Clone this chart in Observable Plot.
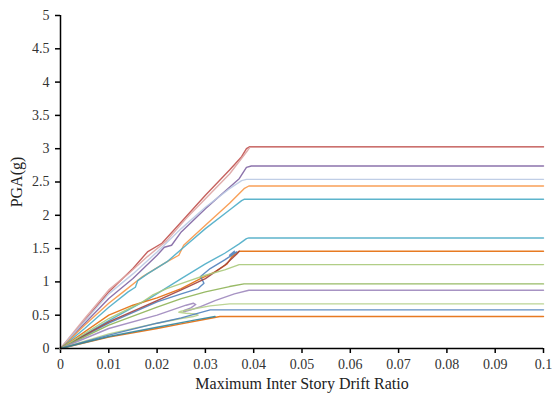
<!DOCTYPE html>
<html><head><meta charset="utf-8">
<script src="https://cdn.jsdelivr.net/npm/d3@7"></script>
<script src="https://cdn.jsdelivr.net/npm/@observablehq/plot@0.6"></script>
<style>
body{margin:0;background:#fff;}
#chart{position:absolute;left:0;top:0;}
</style></head>
<body><div id="chart"></div>
<script>
const xTicks = [0,0.01,0.02,0.03,0.04,0.05,0.06,0.07,0.08,0.09,0.1];
const yTicks = [0,0.5,1,1.5,2,2.5,3,3.5,4,4.5,5];
const xTickLabels = ["0","0.01","0.02","0.03","0.04","0.05","0.06","0.07","0.08","0.09","0.1"];
const yTickLabels = ["0","0.5","1","1.5","2","2.5","3","3.5","4","4.5","5"];

// Each record: [drift ratio, PGA(g)]
const rec01 = [[0,0],[0.005,0.42],[0.01,0.85],[0.015,1.2],[0.018,1.45],[0.021,1.58],[0.025,1.9],[0.03,2.3],[0.035,2.68],[0.0375,2.88],[0.0385,3.0],[0.0392,3.03],[0.1,3.03]];
const rec02 = [[0,0],[0.005,0.45],[0.01,0.88],[0.014,1.12],[0.018,1.38],[0.022,1.62],[0.026,1.95],[0.03,2.25],[0.035,2.62],[0.0385,2.95],[0.0392,3.02],[0.1,3.02]];
const rec03 = [[0,0],[0.01,0.75],[0.015,1.05],[0.02,1.4],[0.0215,1.52],[0.023,1.55],[0.025,1.75],[0.03,2.1],[0.035,2.42],[0.037,2.55],[0.0385,2.72],[0.0395,2.74],[0.1,2.74]];
const rec04 = [[0,0],[0.01,0.82],[0.015,1.12],[0.02,1.45],[0.025,1.8],[0.03,2.12],[0.035,2.4],[0.0375,2.52],[0.0385,2.54],[0.1,2.54]];
const rec05 = [[0,0],[0.005,0.35],[0.01,0.68],[0.013,0.85],[0.017,1.08],[0.022,1.3],[0.0245,1.4],[0.0255,1.55],[0.03,1.85],[0.035,2.18],[0.038,2.4],[0.039,2.44],[0.1,2.44]];
const rec06 = [[0,0],[0.005,0.3],[0.01,0.62],[0.014,0.85],[0.0155,0.92],[0.016,1.02],[0.018,1.12],[0.022,1.3],[0.026,1.55],[0.03,1.8],[0.035,2.08],[0.0375,2.22],[0.038,2.24],[0.1,2.24]];
const rec07 = [[0,0],[0.01,0.42],[0.0186,0.76],[0.025,1.05],[0.03,1.27],[0.034,1.43],[0.037,1.57],[0.0385,1.65],[0.039,1.66],[0.1,1.66]];
const rec08 = [[0,0],[0.01,0.5],[0.015,0.65],[0.02,0.76],[0.025,0.9],[0.029,1.05],[0.032,1.15],[0.0345,1.27],[0.0355,1.38],[0.037,1.46],[0.1,1.46]];
const rec09 = [[0,0],[0.01,0.38],[0.02,0.7],[0.025,0.82],[0.0285,0.9],[0.0297,0.98],[0.029,1.08],[0.031,1.2],[0.034,1.33],[0.0365,1.45],[0.035,1.4],[0.036,1.46]];
const rec10 = [[0,0],[0.01,0.4],[0.02,0.72],[0.025,0.88],[0.03,1.05],[0.034,1.25],[0.0365,1.42],[0.037,1.46]];
const rec11 = [[0,0],[0.01,0.45],[0.017,0.7],[0.019,0.8],[0.022,0.9],[0.026,1.0],[0.03,1.1],[0.034,1.18],[0.037,1.26],[0.1,1.26]];
const rec12 = [[0,0],[0.01,0.35],[0.02,0.62],[0.025,0.75],[0.03,0.85],[0.035,0.93],[0.038,0.97],[0.1,0.97]];
const rec13 = [[0,0],[0.01,0.3],[0.02,0.5],[0.026,0.65],[0.0275,0.68],[0.028,0.66],[0.027,0.61],[0.0255,0.57],[0.0255,0.55],[0.027,0.58],[0.029,0.63],[0.032,0.72],[0.036,0.82],[0.039,0.875],[0.1,0.875]];
const rec14 = [[0,0],[0.01,0.22],[0.02,0.38],[0.025,0.45],[0.0275,0.48],[0.0285,0.5],[0.0278,0.52],[0.026,0.53],[0.0245,0.545],[0.025,0.56],[0.028,0.6],[0.031,0.64],[0.035,0.67],[0.1,0.67]];
const rec15 = [[0,0],[0.01,0.2],[0.02,0.38],[0.025,0.46],[0.028,0.52],[0.031,0.58],[0.1,0.58]];
const rec16 = [[0,0],[0.01,0.17],[0.02,0.3],[0.025,0.37],[0.03,0.44],[0.033,0.48],[0.1,0.48]];
const rec17 = [[0,0],[0.01,0.18],[0.02,0.32],[0.028,0.43],[0.032,0.48]];

const records = [rec01,rec02,rec03,rec04,rec05,rec06,rec07,rec08,rec09,rec10,rec11,rec12,rec13,rec14,rec15,rec16,rec17];
const colors = ["#C0504D","#DDA3A2","#8064A2","#B9C9E3","#F79646","#4BACC6","#4BACC6","#E46C0A","#4F81BD","#A0413E","#A9C97A","#8DB255","#9D87BC","#B5CF8A","#4F81BD","#E46C0A","#31859C"];

const rows = [];
records.forEach((r,i)=>r.forEach(([x,y])=>rows.push({x,y,id:i})));

const chart = Plot.plot({
  width:553, height:395,
  marginLeft:60, marginRight:10, marginTop:15, marginBottom:47,
  style:{fontFamily:"'Liberation Serif', 'Times New Roman', serif", fontSize:"14px", color:"#333", background:"#fff"},
  x:{domain:[0,0.1], ticks:xTicks, tickFormat:(d,i)=>xTickLabels[i], tickSize:5, tickPadding:6, label:"Maximum Inter Story Drift Ratio", labelAnchor:"center", labelOffset:40},
  y:{domain:[0,5], ticks:yTicks, tickFormat:(d,i)=>yTickLabels[i], tickSize:5, tickPadding:6, label:"PGA(g)", labelAnchor:"center", labelOffset:50},
  color:{domain:d3.range(records.length), range:colors},
  marks:[
    Plot.line(rows,{x:"x",y:"y",z:"id",stroke:d=>d.id,strokeWidth:1.4,strokeOpacity:0.9,curve:"linear"}),
    Plot.ruleX([0],{stroke:"#000",strokeWidth:1.5}),
    Plot.ruleY([0],{stroke:"#000",strokeWidth:1.5})
  ]
});
chart.querySelectorAll('[aria-label="x-axis label"] text, [aria-label="y-axis label"] text').forEach(t=>{t.textContent=t.textContent.replace(/\s*[→↑←↓]\s*/g,"").trim();});
chart.querySelectorAll('[aria-label="x-axis label"], [aria-label="y-axis label"]').forEach(g=>{g.style.fontSize="16px";g.setAttribute("fill","#222");});
chart.querySelectorAll('[aria-label="x-axis tick"], [aria-label="y-axis tick"]').forEach(g=>{g.setAttribute("stroke","#000");g.setAttribute("stroke-width","1.5");});
document.getElementById("chart").appendChild(chart);
</script></body></html>
